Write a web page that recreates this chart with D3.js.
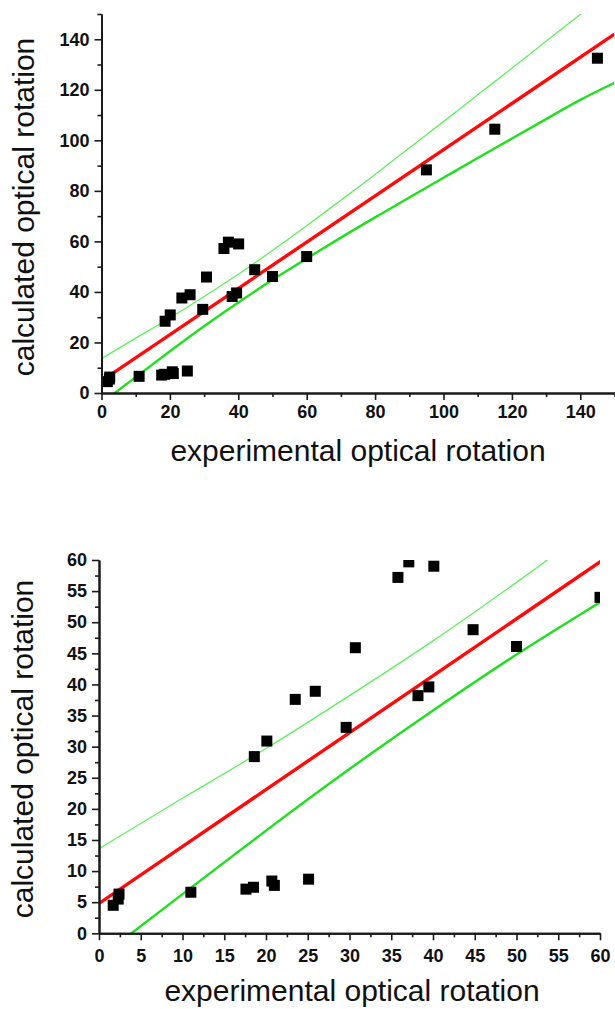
<!DOCTYPE html>
<html>
<head>
<meta charset="utf-8">
<script src="https://cdn.jsdelivr.net/npm/d3@7"></script>
<style>
  html, body { margin: 0; padding: 0; background: #fff; }
  svg { display: block; }
  text { font-family: "Liberation Sans", Arial, sans-serif; }
</style>
</head>
<body>
<svg id="chart" width="615" height="1009"></svg>
<script>
// ---- data ----
const expRotation  = [1.7, 2.3, 2.4, 11.0, 17.6, 18.5, 20.7, 21.0, 25.1, 18.6, 20.1, 23.5, 25.9, 29.6, 30.7, 35.8, 37.1, 40.1, 38.2, 39.5, 44.8, 50.0, 60.0, 95.0, 115.0, 145.0];
const calcRotation = [4.5, 5.5, 6.3, 6.6, 7.1, 7.4, 8.4, 7.7, 8.7, 28.4, 30.9, 37.6, 38.9, 33.1, 45.9, 57.2, 59.7, 59.0, 38.2, 39.6, 48.8, 46.1, 54.0, 88.3, 104.4, 132.5];

// linear fit (red) end points
const fitX = [0, 150];
const fitY = [4.8, 142.05];

// confidence band (green) sampled along x
const bandX     = [0, 10, 20, 30, 40, 50, 60, 70, 80, 90, 100, 110, 120, 130, 140, 150];
const upperBand = [13.6, 21.7, 29.7, 38.2, 47.0, 56.4, 66.2, 76.3, 86.5, 97.0, 107.4, 118.0, 128.5, 139.2, 149.8, 160.5];
const lowerBand = [-4.0, 6.3, 16.5, 26.4, 35.8, 44.8, 53.2, 61.5, 69.5, 77.4, 85.2, 93.0, 100.7, 108.4, 116.0, 122.8];

// ticks
const topMajorTicks = [0, 20, 40, 60, 80, 100, 120, 140];
const topMinorTicks = [10, 30, 50, 70, 90, 110, 130, 150];
const botMajorTicks = [0, 5, 10, 15, 20, 25, 30, 35, 40, 45, 50, 55, 60];
const botMinorTicks = [2.5, 7.5, 12.5, 17.5, 22.5, 27.5, 32.5, 37.5, 42.5, 47.5, 52.5, 57.5];

const xTitle = "experimental optical rotation";
const yTitle = "calculated optical rotation";

const svg = d3.select("#chart");

function drawPanel(cfg) {
  const g = svg.append("g");
  const x = d3.scaleLinear().domain(cfg.domain).range([cfg.left, cfg.right]);
  const y = d3.scaleLinear().domain(cfg.domain).range([cfg.bottom, cfg.top]);

  const clipId = "clip" + cfg.id;
  svg.append("defs").append("clipPath").attr("id", clipId)
    .append("rect")
    .attr("x", cfg.left).attr("y", cfg.top)
    .attr("width", cfg.right - cfg.left).attr("height", cfg.bottom - cfg.top);

  const plot = g.append("g").attr("clip-path", `url(#${clipId})`);

  const line = d3.line().x(d => x(d[0])).y(d => y(d[1]));
  const curve = d3.line().x(d => x(d[0])).y(d => y(d[1])).curve(d3.curveNatural);

  plot.append("path")
    .datum(bandX.map((v, i) => [v, upperBand[i]]))
    .attr("d", curve).attr("fill", "none")
    .attr("stroke", "#5ef05e").attr("stroke-width", 1.3);
  plot.append("path")
    .datum(bandX.map((v, i) => [v, lowerBand[i]]))
    .attr("d", curve).attr("fill", "none")
    .attr("stroke", "#1ee01e").attr("stroke-width", 2.4);
  plot.append("path")
    .datum(fitX.map((v, i) => [v, fitY[i]]))
    .attr("d", line).attr("fill", "none")
    .attr("stroke", "#ff0a0a").attr("stroke-width", 3.4);

  const s = 11;
  plot.selectAll("rect.pt")
    .data(expRotation.map((v, i) => [v, calcRotation[i]]))
    .join("rect").attr("class", "pt")
    .attr("x", d => x(d[0]) - s / 2).attr("y", d => y(d[1]) - s / 2)
    .attr("width", s).attr("height", s)
    .attr("fill", "#000");

  // axes
  const styleAxis = sel => {
    sel.select(".domain").attr("stroke", "#1a1a1a").attr("stroke-width", 2);
    sel.selectAll(".tick line").attr("stroke", "#1a1a1a").attr("stroke-width", 1.6);
    sel.selectAll(".tick text").attr("font-family", "Liberation Sans, Arial, sans-serif")
      .attr("font-weight", "bold").attr("font-size", cfg.tickFont).attr("fill", "#111");
  };

  g.append("g").attr("transform", `translate(0,${cfg.bottom})`)
    .call(d3.axisBottom(x).tickValues(cfg.minor).tickSize(4).tickFormat("").tickSizeOuter(0))
    .call(styleAxis);
  g.append("g").attr("transform", `translate(0,${cfg.bottom})`)
    .call(d3.axisBottom(x).tickValues(cfg.major).tickSize(7).tickPadding(cfg.xPad).tickSizeOuter(0))
    .call(styleAxis);
  g.append("g").attr("transform", `translate(${cfg.left},0)`)
    .call(d3.axisLeft(y).tickValues(cfg.minor).tickSize(4).tickFormat("").tickSizeOuter(0))
    .call(styleAxis);
  g.append("g").attr("transform", `translate(${cfg.left},0)`)
    .call(d3.axisLeft(y).tickValues(cfg.major).tickSize(7).tickPadding(5).tickSizeOuter(0))
    .call(styleAxis);

  g.append("text")
    .attr("x", cfg.xTitleX).attr("y", cfg.xTitleY)
    .attr("text-anchor", "middle").attr("font-size", 30).attr("fill", "#111")
    .text(xTitle);
  g.append("text")
    .attr("transform", `translate(${cfg.yTitleX},${cfg.yTitleY}) rotate(-90)`)
    .attr("text-anchor", "middle").attr("font-size", 30).attr("fill", "#111")
    .text(yTitle);
}

drawPanel({
  id: "top", domain: [0, 150],
  left: 101.5, right: 614.5, top: 14, bottom: 393,
  major: topMajorTicks, minor: topMinorTicks, tickFont: 18, xPad: 5,
  xTitleX: 358, xTitleY: 461, yTitleX: 34, yTitleY: 207
});

drawPanel({
  id: "bot", domain: [0, 60],
  left: 99, right: 600, top: 560, bottom: 933.3,
  major: botMajorTicks, minor: botMinorTicks, tickFont: 18, xPad: 9,
  xTitleX: 352, xTitleY: 1001, yTitleX: 33, yTitleY: 749
});
</script>
</body>
</html>
